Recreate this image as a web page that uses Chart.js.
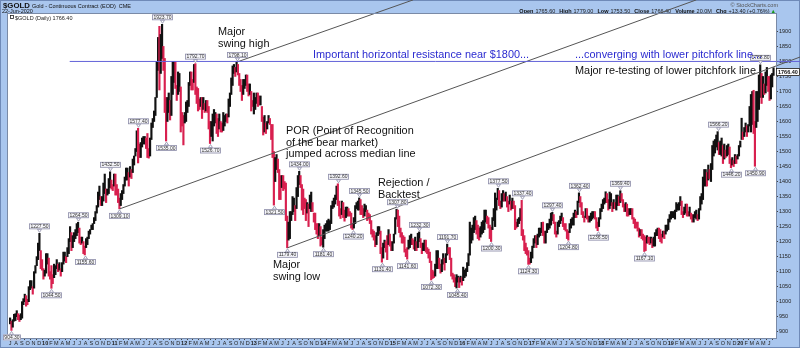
<!DOCTYPE html>
<html lang="en">
<head>
<meta charset="UTF-8">
<title>$GOLD Daily</title>
<script src="https://cdn.jsdelivr.net/npm/chart.js"></script>
<style>
  html, body { margin: 0; padding: 0; background: #a9c6ee; }
  #wrap { position: relative; width: 800px; height: 348px; }
</style>
</head>
<body>
<div id="wrap"><canvas id="goldChart" width="800" height="348"></canvas></div>
<script>
// weekly lows / highs, one pair of arrays per calendar year (weeks start Monday)
const lo2009 = [926,904.3,915,935,937,950,940,934,940,945,990,1000,985,990,1000,1040,1045,1025,1045,1095,1120,1140,1170,1110,1105,1075,1085];
const hi2009 = [946,935,940,958,960,970,960,955,960,1000,1010,1025,1020,1008,1050,1070,1070,1050,1100,1120,1150,1195,1227.5,1170,1140,1110,1105];
const lo2010 = [1095,1125,1085,1075,1044.5,1060,1080,1090,1110,1100,1105,1085,1100,1125,1135,1130,1150,1160,1200,1170,1180,1200,1210,1220,1230,1195,1190,1195,1160,1155.6,1180,1190,1210,1225,1240,1240,1260,1270,1295,1315,1340,1320,1320,1335,1360,1330,1355,1360,1380,1375,1370,1385];
const hi2010 = [1160,1160,1145,1100,1120,1090,1125,1120,1140,1125,1130,1110,1130,1165,1165,1150,1180,1210,1250,1230,1220,1230,1240,1260,1264.5,1245,1215,1215,1200,1185,1210,1215,1235,1240,1255,1260,1280,1300,1320,1365,1385,1350,1350,1395,1425,1375,1375,1410,1432.5,1405,1390,1425];
const lo2011 = [1355,1355,1330,1309.1,1320,1340,1360,1385,1405,1405,1385,1415,1410,1430,1455,1485,1500,1462,1480,1480,1515,1525,1525,1510,1480,1478,1485,1540,1580,1600,1620,1680,1770,1705,1760,1810,1770,1630,1535,1600,1630,1605,1620,1690,1730,1710,1670,1690,1700,1565,1585,1522];
const hi2011 = [1425,1390,1375,1345,1360,1370,1390,1415,1445,1445,1430,1450,1440,1475,1485,1510,1569,1577.4,1525,1530,1545,1550,1550,1545,1560,1510,1545,1595,1610,1635,1680,1800,1880,1917,1890,1923.7,1850,1810,1680,1680,1695,1670,1750,1800,1800,1800,1720,1765,1760,1715,1630,1620];
const lo2012 = [1595,1600,1630,1650,1720,1705,1705,1730,1690,1660,1635,1640,1650,1610,1640,1630,1635,1630,1575,1526.7,1550,1535,1585,1595,1560,1550,1575,1565,1565,1570,1585,1600,1595,1615,1650,1690,1720,1760,1750,1765,1755,1720,1700,1670,1690,1710,1720,1700,1685,1690,1635,1650,1625];
const hi2012 = [1630,1665,1670,1730,1765,1765,1740,1790,1792.7,1715,1710,1675,1680,1680,1680,1660,1670,1670,1650,1600,1600,1625,1640,1630,1625,1610,1625,1600,1595,1630,1620,1625,1625,1675,1695,1745,1785,1790,1780,1798.1,1790,1760,1740,1720,1740,1740,1755,1755,1725,1725,1700,1670,1695];
const lo2013 = [1640,1660,1650,1655,1655,1600,1555,1565,1560,1575,1595,1590,1540,1480,1321.5,1400,1440,1430,1340,1340,1380,1370,1375,1270,1179.4,1205,1210,1270,1290,1300,1270,1310,1350,1390,1380,1305,1290,1310,1270,1295,1250,1310,1300,1300,1265,1240,1225,1210,1220,1185,1190,1181.4];
const hi2013 = [1680,1695,1695,1685,1685,1650,1615,1620,1595,1600,1620,1610,1590,1590,1500,1480,1490,1475,1440,1420,1420,1420,1400,1395,1285,1265,1300,1300,1350,1345,1320,1380,1420,1434,1420,1390,1375,1345,1340,1330,1325,1355,1365,1330,1295,1295,1260,1260,1260,1250,1215,1240];
const lo2014 = [1210,1235,1235,1235,1240,1260,1310,1315,1325,1340,1320,1285,1277,1290,1280,1268,1280,1285,1285,1285,1245,1240.2,1245,1260,1310,1305,1305,1290,1290,1280,1285,1300,1270,1275,1260,1225,1215,1205,1183,1190,1220,1225,1160,1131.4,1145,1180,1165,1140,1190,1185,1170,1170];
const hi2014 = [1255,1260,1270,1275,1270,1320,1335,1345,1355,1385,1392.6,1335,1310,1335,1330,1305,1315,1315,1310,1300,1295,1260,1280,1320,1330,1335,1345.5,1340,1320,1310,1325,1320,1305,1295,1290,1270,1240,1235,1220,1230,1250,1250,1235,1180,1195,1205,1200,1220,1240,1225,1200,1200];
const lo2015 = [1195,1225,1275,1250,1230,1215,1195,1195,1165,1150,1141.6,1175,1180,1190,1190,1175,1170,1170,1180,1200,1180,1160,1170,1170,1165,1160,1145,1130,1072.3,1077,1080,1085,1110,1110,1110,1095,1100,1125,1105,1130,1155,1160,1140,1085,1075,1065,1050,1045.4,1065,1047,1065,1055];
const hi2015 = [1225,1280,1307.8,1305,1285,1245,1230,1220,1215,1175,1180,1205,1220,1225,1210,1205,1215,1200,1228,1232.3,1210,1195,1195,1205,1205,1180,1175,1165,1135,1105,1100,1125,1170,1170,1145,1125,1140,1160,1145,1160,1191.7,1180,1180,1145,1095,1090,1080,1090,1085,1080,1085,1080];
const lo2016 = [1070,1080,1085,1100,1120,1155,1195,1205,1230,1240,1225,1210,1205,1215,1225,1230,1240,1265,1260,1245,1210,1200.3,1240,1270,1250,1305,1340,1320,1310,1315,1335,1335,1335,1315,1300,1325,1305,1310,1310,1240,1245,1250,1260,1270,1220,1205,1170,1160,1155,1124.3,1125,1130];
const hi2016 = [1115,1105,1110,1130,1160,1265,1245,1255,1280,1285,1270,1255,1245,1250,1265,1270,1305,1305,1285,1280,1255,1248,1280,1310,1362,1345,1377.5,1370,1335,1360,1370,1360,1365,1350,1335,1355,1335,1345,1335,1320,1265,1275,1280,1310,1337.4,1240,1220,1195,1180,1170,1145,1165];
const lo2017 = [1145,1180,1195,1180,1190,1215,1220,1230,1220,1195,1195,1230,1240,1245,1255,1270,1260,1225,1215,1225,1250,1260,1270,1250,1240,1235,1210,1204.8,1230,1245,1255,1255,1280,1280,1290,1330,1315,1290,1280,1265,1280,1275,1265,1265,1270,1275,1280,1275,1245,1236.5,1250,1275];
const hi2017 = [1185,1210,1220,1220,1225,1245,1245,1264,1265,1235,1235,1260,1260,1275,1295,1297.4,1290,1265,1235,1265,1270,1285,1295,1280,1260,1260,1240,1235,1260,1275,1280,1295,1305,1300,1335,1362.4,1350,1330,1300,1285,1310,1310,1285,1285,1295,1300,1300,1300,1280,1265,1280,1310];
const lo2018 = [1300,1310,1325,1330,1330,1305,1310,1320,1300,1310,1310,1305,1320,1320,1330,1335,1315,1300,1300,1285,1285,1290,1290,1275,1260,1245,1245,1235,1215,1220,1210,1205,1167.1,1170,1195,1195,1190,1195,1180,1185,1185,1220,1220,1210,1200,1195,1215,1210,1225,1235,1240,1265,1275];
const hi2018 = [1325,1340,1345,1366,1360,1340,1365,1360,1330,1340,1330,1355,1355,1350,1369.4,1360,1340,1325,1330,1325,1310,1310,1310,1310,1280,1275,1265,1265,1245,1240,1240,1225,1220,1215,1220,1215,1215,1215,1210,1215,1230,1240,1245,1245,1240,1225,1235,1235,1255,1255,1275,1290,1300];
const lo2019 = [1280,1280,1275,1300,1305,1305,1320,1290,1280,1290,1295,1285,1285,1285,1275,1265,1265,1280,1275,1270,1275,1305,1325,1340,1385,1385,1385,1405,1410,1400,1440,1485,1495,1515,1505,1490,1490,1485,1460,1475,1480,1485,1490,1460,1446.2,1455,1450,1460,1460,1475,1485,1515];
const hi2019 = [1300,1300,1305,1330,1325,1330,1350,1335,1300,1315,1325,1325,1300,1315,1295,1290,1290,1300,1305,1290,1310,1350,1360,1415,1440,1440,1430,1455,1440,1460,1520,1535,1540,1555,1566.2,1530,1535,1545,1520,1525,1505,1520,1525,1515,1475,1480,1470,1490,1485,1490,1520,1535];
const lo2020 = [1540,1540,1550,1565,1550,1565,1585,1565,1590,1560,1450.9,1580,1600,1640,1680,1660,1680,1690,1695,1720,1700,1670,1675,1715,1753.5];
const hi2020 = [1611,1565,1580,1595,1585,1590,1650,1690,1700,1704,1600,1700,1700,1755,1788.8,1760,1750,1725,1765,1780,1750,1750,1755,1760,1779];

// labelled swing highs / lows
const markDates = ['2009-07-08','2009-12-03','2010-02-05','2010-06-21','2010-07-28','2010-12-07','2011-01-28','2011-05-02','2011-09-06','2011-09-26','2012-02-29','2012-05-16','2012-10-05','2013-04-16','2013-06-28','2013-08-28','2013-12-31','2014-03-17','2014-06-03','2014-07-10','2014-11-07','2015-01-22','2015-03-17','2015-05-18','2015-07-24','2015-10-14','2015-12-03','2016-05-31','2016-07-06','2016-11-09','2016-12-15','2017-04-17','2017-07-10','2017-09-08','2017-12-12','2018-04-11','2018-08-16','2019-09-04','2019-11-12','2020-03-16','2020-04-14'];
const markValues = [904.3,1227.5,1044.5,1264.5,1155.6,1432.5,1309.1,1577.4,1923.7,1535,1792.7,1526.7,1798.1,1321.5,1179.4,1434,1181.4,1392.6,1240.2,1345.5,1131.4,1307.8,1141.6,1232.3,1072.3,1191.7,1045.4,1200.3,1377.5,1337.4,1124.3,1297.4,1204.8,1362.4,1236.5,1369.4,1167.1,1566.2,1446.2,1450.9,1788.8];
const markSides = ['L','H','L','H','L','H','L','H','H','L','H','L','H','L','L','H','L','H','L','H','L','H','L','H','L','H','L','L','H','H','L','H','L','H','L','H','L','H','L','L','H'];

// pitchfork tines and the $1800 line: [start date, start price, end date, end price]
const upperTine = ['2012-10-05', 1798.1, '2015-04-18', 2005];
const medianLine = ['2011-01-28', 1309.1, '2019-05-15', 2005];
const lowerTine = ['2013-06-28', 1179.4, '2020-11-12', 1815];
const resistance = ['2010-05-10', 1800, '2020-12-31', 1800];

const yTicks = [];
for (let v = 900; v <= 1925; v += 25) yTicks.push(v);
const monthLetters = ['J','F','M','A','M','J','J','A','S','O','N','D'];

const lastClose = 1766.40;
const quote = [['Open', '1765.60'], ['High', '1779.00'], ['Low', '1753.50'], ['Close', '1766.40'], ['Volume', '20.0M'], ['Chg', '+13.40 (+0.76%)']];

const DAY = 86400000;
function frac(ms) {
  const y = new Date(ms).getUTCFullYear();
  const a = Date.UTC(y, 0, 1), b = Date.UTC(y + 1, 0, 1);
  return y + (ms - a) / (b - a);
}
function firstMonday(y) {
  const t = Date.UTC(y, 0, 1);
  const dow = new Date(t).getUTCDay();
  return t + ((8 - dow) % 7) * DAY;
}

const years = [
  [2009, lo2009, hi2009], [2010, lo2010, hi2010], [2011, lo2011, hi2011], [2012, lo2012, hi2012],
  [2013, lo2013, hi2013], [2014, lo2014, hi2014], [2015, lo2015, hi2015], [2016, lo2016, hi2016],
  [2017, lo2017, hi2017], [2018, lo2018, hi2018], [2019, lo2019, hi2019], [2020, lo2020, hi2020]
];
const bars = [];
years.forEach(([yr, lo, hi]) => {
  const start = yr === 2009 ? Date.UTC(2009, 5, 29) : firstMonday(yr);
  lo.forEach((l, i) => {
    const mon = start + i * 7 * DAY;
    bars.push({ mon, x: frac(mon + 2 * DAY), y: [l, hi[i]] });
  });
});
const mid = b => (b.y[0] + b.y[1]) / 2;
const barColors = bars.map((b, i) => (i > 0 && mid(b) < mid(bars[i - 1])) ? '#d8204f' : '#111111');

function barAt(dateStr) {
  const t = Date.parse(dateStr);
  return bars.find(b => t >= b.mon && t < b.mon + 7 * DAY) || bars[0];
}
function segment(def) {
  return [{ x: frac(Date.parse(def[0])), y: def[1] }, { x: frac(Date.parse(def[2])), y: def[3] }];
}

const FONT = '"Liberation Sans", Arial, sans-serif';

// text notes placed on the canvas
const notes = [
  { lines: ['Major', 'swing high'], x: 218, y: 35, color: '#111' },
  { lines: ['Important horizontal resistance near $1800...'], x: 313, y: 58, color: '#2b2bd0' },
  { lines: ['...converging with lower pitchfork line...'], x: 575, y: 58, color: '#2b2bd0' },
  { lines: ['Major re-testing of lower pitchfork line'], x: 575, y: 74, color: '#111' },
  { lines: ['POR (Point of Recognition', 'of the bear market)', 'jumped across median line'], x: 286, y: 134, color: '#111' },
  { lines: ['Rejection /', 'Backtest'], x: 378, y: 186, color: '#111' },
  { lines: ['Major', 'swing low'], x: 273, y: 268, color: '#111' }
];

function priceTag(ctx, px, py, text, above) {
  ctx.font = '5px ' + FONT;
  const w = Math.round(ctx.measureText(text).width) + 3, h = 6;
  const tip = above ? py - 1 : py + 1;
  const by = above ? tip - 3 - h : tip + 3;
  const bx = Math.round(px - w / 2);
  ctx.fillStyle = '#f6f6fa';
  ctx.strokeStyle = '#8c8ca8';
  ctx.lineWidth = 0.8;
  ctx.fillRect(bx, by, w, h);
  ctx.strokeRect(bx + 0.5, by + 0.5, w - 1, h - 1);
  ctx.beginPath();
  ctx.moveTo(px, tip);
  ctx.lineTo(px - 2, above ? tip - 3 : tip + 3);
  ctx.lineTo(px + 2, above ? tip - 3 : tip + 3);
  ctx.closePath();
  ctx.fillStyle = '#ffffff';
  ctx.fill();
  ctx.stroke();
  ctx.fillStyle = '#333';
  ctx.textBaseline = 'middle';
  ctx.textAlign = 'center';
  ctx.fillText(text, bx + w / 2, by + h / 2 + 0.3);
}

const decor = {
  id: 'decor',
  beforeDraw(chart) {
    const { ctx, chartArea: a } = chart;
    ctx.save();
    ctx.fillStyle = '#a9c6ee';
    ctx.fillRect(0, 0, chart.width, chart.height);
    ctx.fillStyle = '#ffffff';
    ctx.fillRect(a.left, a.top, a.right - a.left, a.bottom - a.top);
    ctx.strokeStyle = '#6f8ab8';
    ctx.strokeRect(0.5, 0.5, chart.width - 1, chart.height - 1);

    // header
    ctx.textBaseline = 'alphabetic';
    ctx.textAlign = 'left';
    ctx.fillStyle = '#111';
    ctx.font = 'bold 7.8px ' + FONT;
    ctx.fillText('$GOLD', 3, 7.5);
    ctx.font = '5.5px ' + FONT;
    ctx.fillText('Gold - Continuous Contract (EOD)  CME', 32, 7.5);
    ctx.fillText('22-Jun-2020', 2, 13);
    ctx.fillStyle = '#555';
    ctx.textAlign = 'right';
    ctx.fillText('\u00a9 StockCharts.com', 778, 6.5);

    // quote line, laid out right to left
    let x = 776;
    ctx.fillStyle = '#1a9a1a';
    ctx.fillText('\u25b2', x, 13);
    x -= ctx.measureText('\u25b2').width + 1;
    for (let i = quote.length - 1; i >= 0; i--) {
      ctx.font = '5.5px ' + FONT;
      ctx.fillStyle = '#222';
      ctx.fillText(quote[i][1], x, 13);
      x -= ctx.measureText(quote[i][1]).width + 2;
      ctx.font = 'bold 5.5px ' + FONT;
      ctx.fillStyle = '#111';
      ctx.fillText(quote[i][0], x, 13);
      x -= ctx.measureText(quote[i][0]).width + 4;
    }
    ctx.restore();
  },
  afterDraw(chart) {
    const { ctx, chartArea: a, scales } = chart;
    const xs = scales.x, ys = scales.y;
    ctx.save();

    // plot frame
    ctx.strokeStyle = '#7a8aa6';
    ctx.lineWidth = 1;
    ctx.strokeRect(a.left - 0.5, a.top - 0.5, a.right - a.left + 1, a.bottom - a.top + 1);

    // legend line inside the plot
    ctx.fillStyle = '#222';
    ctx.strokeStyle = '#222';
    ctx.lineWidth = 0.8;
    ctx.strokeRect(10.5, 15.5, 3, 3);
    ctx.font = '5.5px ' + FONT;
    ctx.textAlign = 'left';
    ctx.textBaseline = 'alphabetic';
    ctx.fillText('$GOLD (Daily) 1766.40', 15, 19.5);

    // swing labels
    markDates.forEach((d, i) => {
      const b = barAt(d);
      const px = Math.round(xs.getPixelForValue(b.x)) + 0.5;
      const py = ys.getPixelForValue(markValues[i]);
      priceTag(ctx, px, py, markValues[i].toFixed(2), markSides[i] === 'H');
    });

    // notes
    ctx.font = '10.9px ' + FONT;
    ctx.textAlign = 'left';
    ctx.textBaseline = 'alphabetic';
    notes.forEach(n => {
      ctx.fillStyle = n.color;
      n.lines.forEach((t, j) => ctx.fillText(t, n.x, n.y + j * 11.7));
    });

    // last price box on the axis
    const ly = Math.round(ys.getPixelForValue(lastClose));
    ctx.fillStyle = '#ffffff';
    ctx.fillRect(a.right, ly - 4, 24, 8);
    ctx.strokeStyle = '#111';
    ctx.strokeRect(a.right + 0.5, ly - 3.5, 23, 7);
    ctx.fillStyle = '#111';
    ctx.font = 'bold 5.5px ' + FONT;
    ctx.textBaseline = 'middle';
    ctx.fillText(lastClose.toFixed(2), a.right + 2, ly + 0.5);
    ctx.restore();
  }
};

const lineStyle = (color) => ({
  type: 'line', borderColor: color, borderWidth: 1, pointRadius: 0,
  fill: false, clip: false, order: 1, tension: 0
});

new Chart(document.getElementById('goldChart'), {
  type: 'bar',
  data: {
    datasets: [
      { type: 'bar', data: bars.map(b => ({ x: b.x, y: b.y })), backgroundColor: barColors,
        barThickness: 1.5, grouped: false, order: 3 },
      Object.assign({ data: segment(resistance) }, lineStyle('#6262d8')),
      Object.assign({ data: segment(upperTine) }, lineStyle('#555555')),
      Object.assign({ data: segment(medianLine) }, lineStyle('#555555')),
      Object.assign({ data: segment(lowerTine) }, lineStyle('#555555'))
    ]
  },
  options: {
    responsive: false,
    animation: false,
    devicePixelRatio: 1,
    layout: { padding: { left: 8, top: 14, right: 0, bottom: 0 } },
    plugins: { legend: { display: false }, tooltip: { enabled: false } },
    scales: {
      x: {
        type: 'linear',
        min: frac(Date.UTC(2009, 5, 20)),
        max: frac(Date.UTC(2020, 6, 7)),
        offset: false,
        afterFit: s => { s.height = 10; },
        afterBuildTicks: s => {
          const t = [];
          for (let y = 2009; y <= 2020; y++) {
            for (let m = 0; m < 12; m++) {
              if ((y === 2009 && m < 6) || (y === 2020 && m > 5)) continue;
              t.push({ value: frac(Date.UTC(y, m, 1)), label: m === 0 ? String(y).slice(2) : monthLetters[m] });
            }
          }
          s.ticks = t;
        },
        grid: { drawOnChartArea: false, tickLength: 2, color: '#444' },
        border: { display: false },
        ticks: {
          autoSkip: false, maxRotation: 0, padding: 0, color: '#222',
          font: c => ({ size: 5.5, family: FONT, weight: (c.tick && c.tick.label && c.tick.label.length === 2) ? 'bold' : 'normal' }),
          callback: (v, i, t) => t[i].label
        }
      },
      y: {
        type: 'linear',
        position: 'right',
        min: 879,
        max: 1958,
        afterFit: s => { s.width = 24; },
        afterBuildTicks: s => { s.ticks = yTicks.map(v => ({ value: v })); },
        grid: { drawOnChartArea: false, tickLength: 2, color: '#444' },
        border: { display: false },
        ticks: { padding: 1, color: '#222', font: { size: 5.5, family: FONT }, callback: v => String(v) }
      }
    }
  },
  plugins: [decor]
});
</script>
</body>
</html>
